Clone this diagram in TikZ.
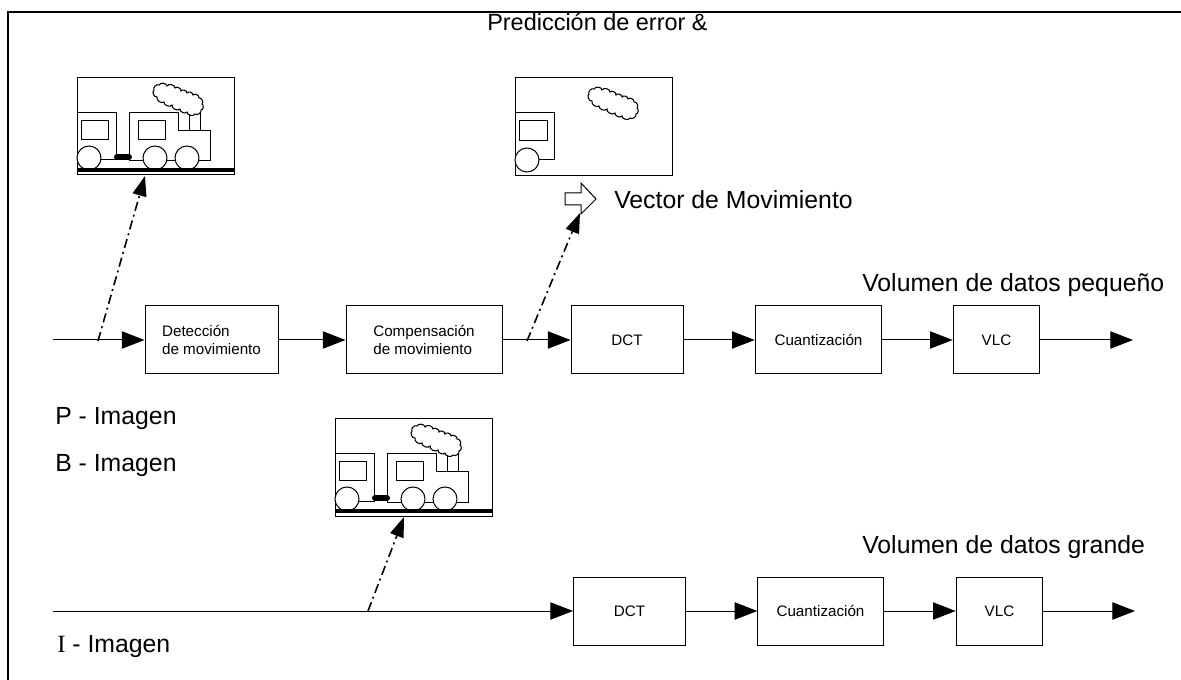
\documentclass[tikz,border=0pt]{standalone}
\usepackage{fontspec}
\setmainfont{Liberation Sans}
\newfontfamily\serifa{Liberation Serif}
\usepackage{tikz}
\usetikzlibrary{arrows.meta}
\tikzset{
    caja/.style={draw, line width=0.75pt, minimum height=51pt, inner sep=0pt, align=left, font=\fontsize{11.4pt}{13pt}\selectfont},
    etiqueta/.style={anchor=base west, inner sep=0pt, font=\fontsize{18.6pt}{22pt}\selectfont},
    flecha/.style={line width=0.75pt, -{Triangle[length=17pt,width=13pt]}},
    trazo/.style={line width=1.2pt, dash pattern=on 7pt off 3pt on 1.5pt off 3pt, -{Triangle[length=15pt,width=10.5pt]}}}
\tikzset{
  nube/.pic={
    \draw[line width=0.8pt, fill=white] (82,7) to[bend left=80] (90,8) to[bend left=80] (98,10)
      to[bend left=80] (104,13) to[bend left=80] (110,15) to[bend left=80] (116,17)
      to[bend left=80] (122,20) to[bend left=80] (125,26) to[bend left=80] (124,32)
      to[bend left=80] (118,36) to[bend left=80] (110,34) to[bend left=80] (103,31)
      to[bend left=80] (95,27) to[bend left=80] (87,24) to[bend left=80] (80,19)
      to[bend left=80] (77,12) to[bend left=80] (82,7) -- cycle;
  },
  tren/.pic={
    \draw[line width=0.75pt] (0,0) rectangle (157,97);
    % vagon
    \draw[line width=0.75pt] (0,35) -- (39,35) -- (39,82) -- (24,82);
    \draw[line width=0.75pt] (4,43) rectangle (31,62);
    % locomotora
    \draw[line width=0.75pt] (52,83) -- (52,35) -- (101,35) -- (101,53) -- (133,53) -- (133,83) -- cycle;
    \draw[line width=0.75pt] (61,43) rectangle (88,62);
    \draw[line width=0.75pt] (112,35) rectangle (123,53);
    \draw[line width=4.5pt, line cap=round] (40,79) -- (52,79);
    \foreach \rx in {12,78,110}
      \draw[line width=0.75pt, fill=white] (\rx,80) circle (12);
    \pic at (0,0) {nube};
    \draw[line width=2.4pt] (0,92) -- (157,92);
  }
}

\begin{document}
\begin{tikzpicture}[x=0.75pt, y=-0.75pt]
\useasboundingbox (0,0) rectangle (1181,680);
\draw[line width=1.8pt] (8,680) -- (8,12) -- (1181,12);

% imagenes
\pic at (77,78) {tren};
\pic at (335,419) {tren};
\begin{scope}[shift={(515,78)}]
\draw[line width=0.75pt] (0,0) rectangle (157,98);
\draw[line width=0.75pt] (0,35) -- (39,35) -- (39,82) -- (24,82);
\draw[line width=0.75pt] (4,43) rectangle (32,63);
\draw[line width=0.75pt, fill=white] (12,82) circle (12);
\pic at (-3,4) {nube};
\end{scope}

% flecha hueca
\draw[line width=0.75pt, fill=white] (565,193) -- (581,193) -- (581,183) -- (596,199) -- (581,214) -- (581,205) -- (565,205) -- cycle;

% fila superior
\node[caja, minimum width=99.75pt] (deteccion) at (211.5,340) {Detección\\de movimiento};
\node[caja, minimum width=117pt] (compensacion) at (424,340) {Compensación\\de movimiento};
\node[caja, minimum width=84pt] (dct1) at (627,340) {DCT};
\node[caja, minimum width=95pt] (cuant1) at (818.5,340) {Cuantización};
\node[caja, minimum width=65pt] (vlc1) at (996.5,340) {VLC};
\coordinate (in1) at (53,340);
\coordinate (out1) at (1133,340);
\draw[flecha] (in1) -- (deteccion);
\draw[flecha] (deteccion) -- (compensacion);
\draw[flecha] (compensacion) -- (dct1);
\draw[flecha] (dct1) -- (cuant1);
\draw[flecha] (cuant1) -- (vlc1);
\draw[flecha] (vlc1) -- (out1);

% fila inferior
\node[caja, minimum width=84pt] (dct2) at (629.5,611) {DCT};
\node[caja, minimum width=94pt] (cuant2) at (820.5,611) {Cuantización};
\node[caja, minimum width=65pt] (vlc2) at (999.5,611) {VLC};
\coordinate (in2) at (53,611);
\coordinate (out2) at (1135,611);
\draw[flecha] (in2) -- (dct2);
\draw[flecha] (dct2) -- (cuant2);
\draw[flecha] (cuant2) -- (vlc2);
\draw[flecha] (vlc2) -- (out2);

% referencias
\coordinate (d1) at (98,341);
\coordinate (t1) at (145,176);
\coordinate (d2) at (527,341);
\coordinate (t2) at (580,213);
\coordinate (d3) at (368,611);
\coordinate (t3) at (404,517);
\draw[trazo] (d1) -- (t1);
\draw[trazo] (d2) -- (t2);
\draw[trazo] (d3) -- (t3);

% textos
\node[etiqueta, font=\fontsize{17.6pt}{21pt}\selectfont] (pred) at (487,31) {Predicción de error \&};
\node[etiqueta] (vector) at (614,209) {Vector de Movimiento};
\node[etiqueta] (pequeno) at (862,292) {Volumen de datos pequeño};
\node[etiqueta] (grande) at (862,553) {Volumen de datos grande};
\node[etiqueta] (pimg) at (55,425) {P - Imagen};
\node[etiqueta] (bimg) at (55,472) {B - Imagen};
\node[etiqueta] (iimg) at (57,652) {{\serifa I} - Imagen};
\end{tikzpicture}
\end{document}
